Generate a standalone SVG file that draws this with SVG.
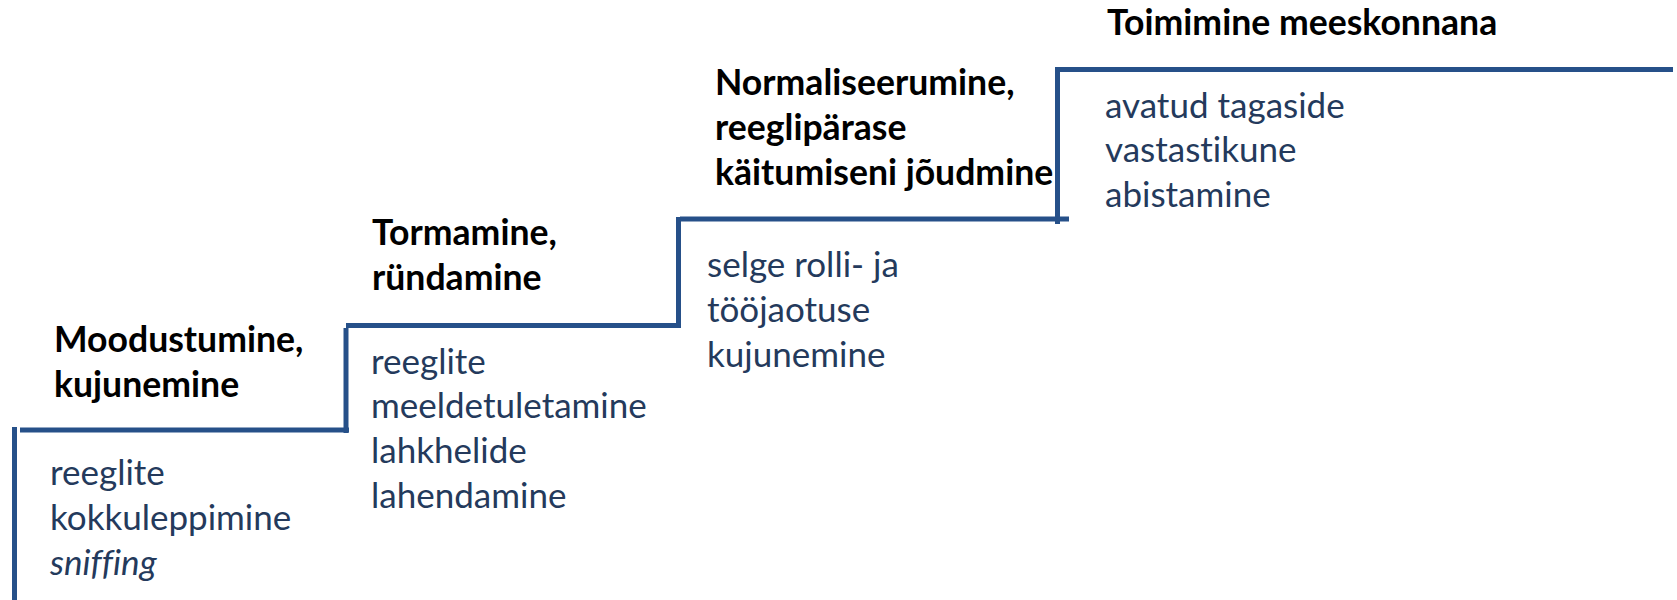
<svg xmlns="http://www.w3.org/2000/svg" width="1677" height="600" viewBox="0 0 1677 600">
<style>
.step{stroke:#265089;stroke-width:5;fill:none;stroke-linecap:butt}
.t{font-family:Lato,"Open Sans",sans-serif;font-weight:bold;font-size:35.6px;fill:#000;font-variant-ligatures:none}
.b{font-family:Lato,"Open Sans",sans-serif;font-size:35px;fill:#243a5c;font-variant-ligatures:none}
</style>
<rect width="1677" height="600" fill="#fff"/>
<g id="connectors">
<line class="step" x1="14.5" y1="427" x2="14.5" y2="600"/>
<line class="step" x1="20" y1="430" x2="349" y2="430"/>
<line class="step" x1="346" y1="328" x2="346" y2="433"/>
<line class="step" x1="346" y1="325.5" x2="680" y2="325.5"/>
<line class="step" x1="678.5" y1="217" x2="678.5" y2="328"/>
<line class="step" x1="680" y1="219" x2="1069" y2="219"/>
<line class="step" x1="1057.5" y1="67" x2="1057.5" y2="224"/>
<line class="step" x1="1055" y1="69.5" x2="1673" y2="69.5"/>
</g>
<g id="stage1">
<text class="t" x="54" y="352">Moodustumine,</text>
<text class="t" x="54" y="397">kujunemine</text>
<text class="b" x="50" y="485">reeglite</text>
<text class="b" x="50" y="530">kokkuleppimine</text>
<text class="b" x="50" y="575" font-style="italic">sniffing</text>
</g>
<g id="stage2">
<text class="t" x="372" y="245">Tormamine,</text>
<text class="t" x="372" y="290">ründamine</text>
<text class="b" x="371" y="374">reeglite</text>
<text class="b" x="371" y="418">meeldetuletamine</text>
<text class="b" x="371" y="463">lahkhelide</text>
<text class="b" x="371" y="508">lahendamine</text>
</g>
<g id="stage3">
<text class="t" x="715" y="95">Normaliseerumine,</text>
<text class="t" x="715" y="140">reeglipärase</text>
<text class="t" x="715" y="185">käitumiseni jõudmine</text>
<text class="b" x="707" y="277">selge rolli- ja</text>
<text class="b" x="707" y="322">tööjaotuse</text>
<text class="b" x="707" y="367">kujunemine</text>
</g>
<g id="stage4">
<text class="t" x="1107" y="35">Toimimine meeskonnana</text>
<text class="b" x="1105" y="118">avatud tagaside</text>
<text class="b" x="1105" y="162">vastastikune</text>
<text class="b" x="1105" y="207">abistamine</text>
</g>
</svg>
